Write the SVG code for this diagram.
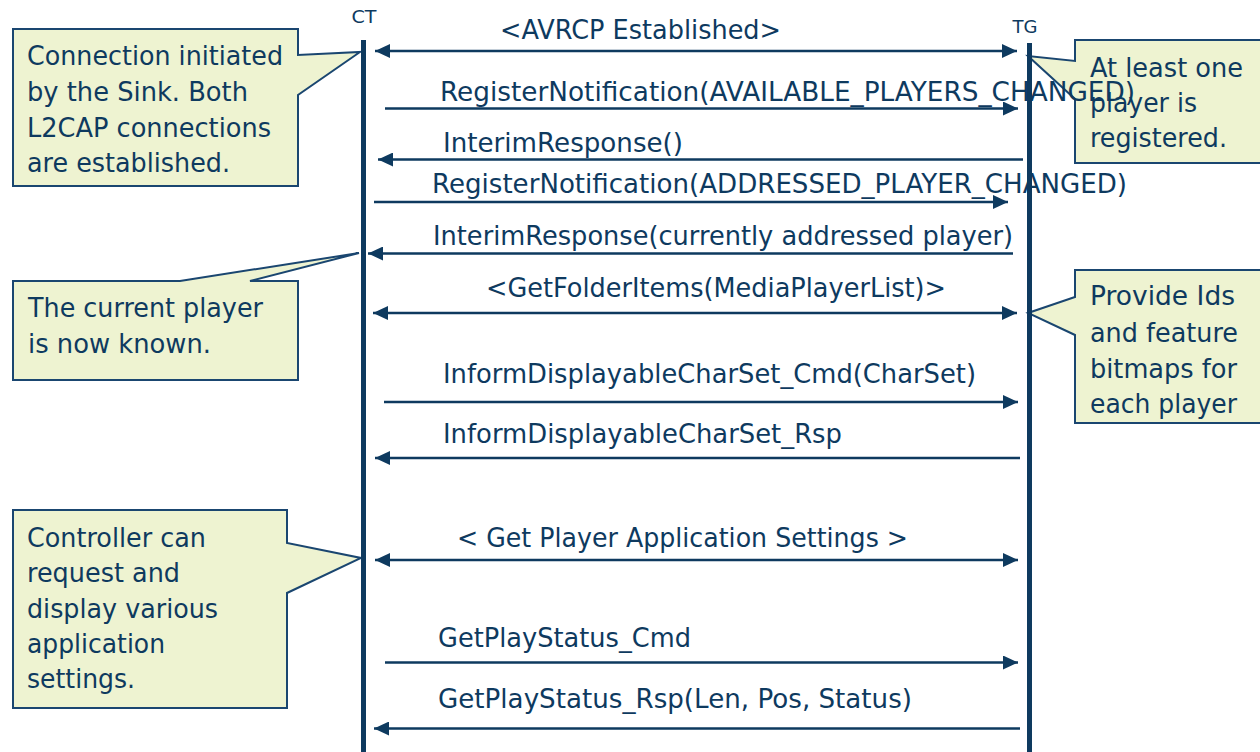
<svg xmlns="http://www.w3.org/2000/svg" width="1260" height="752" viewBox="0 0 1260 752">
<defs>
<style>
.t{font-family:"DejaVu Sans","Liberation Sans",sans-serif;fill:#0e3a5f;}
.msg{font-size:27px;}
.co{font-size:26px;}
.ll{font-size:18px;}
.box{fill:#eef3d1;stroke:#1a4670;stroke-width:2;stroke-linejoin:miter;}
.life{stroke:#0e3a5f;stroke-width:5;}
.arr{stroke:#0e3a5f;stroke-width:2.5;fill:none;}
</style>
<marker id="ah" markerUnits="userSpaceOnUse" markerWidth="16" markerHeight="14" refX="15" refY="7" orient="auto-start-reverse">
<path d="M0,0 L15,7 L0,14 Z" fill="#0e3a5f"/>
</marker>
</defs>
<rect width="1260" height="752" fill="#ffffff"/>

<g id="note-connection">
<path class="box" d="M13,29 H298 V55 L360,52 L298,95 V186 H13 Z"/>
<text class="t co" x="27" y="65" textLength="256" lengthAdjust="spacingAndGlyphs">Connection initiated</text>
<text class="t co" x="27" y="101" textLength="221" lengthAdjust="spacingAndGlyphs">by the Sink. Both</text>
<text class="t co" x="27" y="137" textLength="244" lengthAdjust="spacingAndGlyphs">L2CAP connections</text>
<text class="t co" x="27" y="172" textLength="203" lengthAdjust="spacingAndGlyphs">are established.</text>
</g>

<g id="note-registered">
<path class="box" d="M1075,40 H1262 V163 H1075 V99 L1028,56 L1075,61 Z"/>
</g>

<g id="note-current">
<path class="box" d="M13,281 H180 L359,253 L250,281 H298 V380 H13 Z"/>
<text class="t co" x="28" y="317" textLength="235" lengthAdjust="spacingAndGlyphs">The current player</text>
<text class="t co" x="28" y="353" textLength="183" lengthAdjust="spacingAndGlyphs">is now known.</text>
</g>

<g id="note-ids">
<path class="box" d="M1075,270 H1262 V423 H1075 V335 L1028,313 L1075,297 Z"/>
<text class="t co" x="1090" y="305" textLength="145" lengthAdjust="spacingAndGlyphs">Provide Ids</text>
<text class="t co" x="1090" y="342" textLength="148" lengthAdjust="spacingAndGlyphs">and feature</text>
<text class="t co" x="1090" y="378" textLength="147" lengthAdjust="spacingAndGlyphs">bitmaps for</text>
<text class="t co" x="1090" y="413" textLength="147" lengthAdjust="spacingAndGlyphs">each player</text>
</g>

<g id="note-controller">
<path class="box" d="M13,510 H287 V543 L361,558 L287,593 V708 H13 Z"/>
<text class="t co" x="27" y="547" textLength="179" lengthAdjust="spacingAndGlyphs">Controller can</text>
<text class="t co" x="27" y="582" textLength="153" lengthAdjust="spacingAndGlyphs">request and</text>
<text class="t co" x="27" y="618" textLength="191" lengthAdjust="spacingAndGlyphs">display various</text>
<text class="t co" x="27" y="653" textLength="138" lengthAdjust="spacingAndGlyphs">application</text>
<text class="t co" x="27" y="688" textLength="108" lengthAdjust="spacingAndGlyphs">settings.</text>
</g>

<g id="CT">
<text class="t ll" x="364" y="23" text-anchor="middle" textLength="25" lengthAdjust="spacingAndGlyphs">CT</text>
<line class="life" x1="363.5" y1="40" x2="363.5" y2="752"/>
</g>
<g id="TG">
<text class="t ll" x="1025" y="33" text-anchor="middle" textLength="25" lengthAdjust="spacingAndGlyphs">TG</text>
<line class="life" x1="1029.5" y1="43" x2="1029.5" y2="752"/>
</g>

<g id="connectors">
<line class="arr" x1="375" y1="51" x2="1017" y2="51" marker-start="url(#ah)" marker-end="url(#ah)"/>
<line class="arr" x1="385" y1="108.5" x2="1018" y2="108.5" marker-end="url(#ah)"/>
<line class="arr" x1="1023" y1="159.5" x2="378" y2="159.5" marker-end="url(#ah)"/>
<line class="arr" x1="374" y1="202" x2="1008" y2="202" marker-end="url(#ah)"/>
<line class="arr" x1="1013" y1="253.5" x2="368" y2="253.5" marker-end="url(#ah)"/>
<line class="arr" x1="373" y1="313" x2="1017" y2="313" marker-start="url(#ah)" marker-end="url(#ah)"/>
<line class="arr" x1="384" y1="402" x2="1018" y2="402" marker-end="url(#ah)"/>
<line class="arr" x1="1020" y1="458" x2="375" y2="458" marker-end="url(#ah)"/>
<line class="arr" x1="375" y1="560" x2="1018" y2="560" marker-start="url(#ah)" marker-end="url(#ah)"/>
<line class="arr" x1="385" y1="662.5" x2="1018" y2="662.5" marker-end="url(#ah)"/>
<line class="arr" x1="1020" y1="728.5" x2="374" y2="728.5" marker-end="url(#ah)"/>
</g>

<g id="labels">
<text class="t msg" x="500" y="39" textLength="281" lengthAdjust="spacingAndGlyphs">&lt;AVRCP Established&gt;</text>
<text class="t msg" x="440" y="101" textLength="695" lengthAdjust="spacingAndGlyphs">RegisterNotification(AVAILABLE_PLAYERS_CHANGED)</text>
<text class="t msg" x="443" y="152" textLength="240" lengthAdjust="spacingAndGlyphs">InterimResponse()</text>
<text class="t msg" x="432" y="193" textLength="695" lengthAdjust="spacingAndGlyphs">RegisterNotification(ADDRESSED_PLAYER_CHANGED)</text>
<text class="t msg" x="433" y="245" textLength="580" lengthAdjust="spacingAndGlyphs">InterimResponse(currently addressed player)</text>
<text class="t msg" x="486" y="297" textLength="460" lengthAdjust="spacingAndGlyphs">&lt;GetFolderItems(MediaPlayerList)&gt;</text>
<text class="t msg" x="443" y="383" textLength="533" lengthAdjust="spacingAndGlyphs">InformDisplayableCharSet_Cmd(CharSet)</text>
<text class="t msg" x="443" y="443" textLength="399" lengthAdjust="spacingAndGlyphs">InformDisplayableCharSet_Rsp</text>
<text class="t msg" x="457" y="547" textLength="451" lengthAdjust="spacingAndGlyphs">&lt; Get Player Application Settings &gt;</text>
<text class="t msg" x="438" y="647" textLength="253" lengthAdjust="spacingAndGlyphs">GetPlayStatus_Cmd</text>
<text class="t msg" x="438" y="708" textLength="474" lengthAdjust="spacingAndGlyphs">GetPlayStatus_Rsp(Len, Pos, Status)</text>
</g>

<g id="note-registered-text">
<text class="t co" x="1090" y="77" textLength="153" lengthAdjust="spacingAndGlyphs">At least one</text>
<text class="t co" x="1090" y="112" textLength="107" lengthAdjust="spacingAndGlyphs">player is</text>
<text class="t co" x="1090" y="147" textLength="137" lengthAdjust="spacingAndGlyphs">registered.</text>
</g>
</svg>
